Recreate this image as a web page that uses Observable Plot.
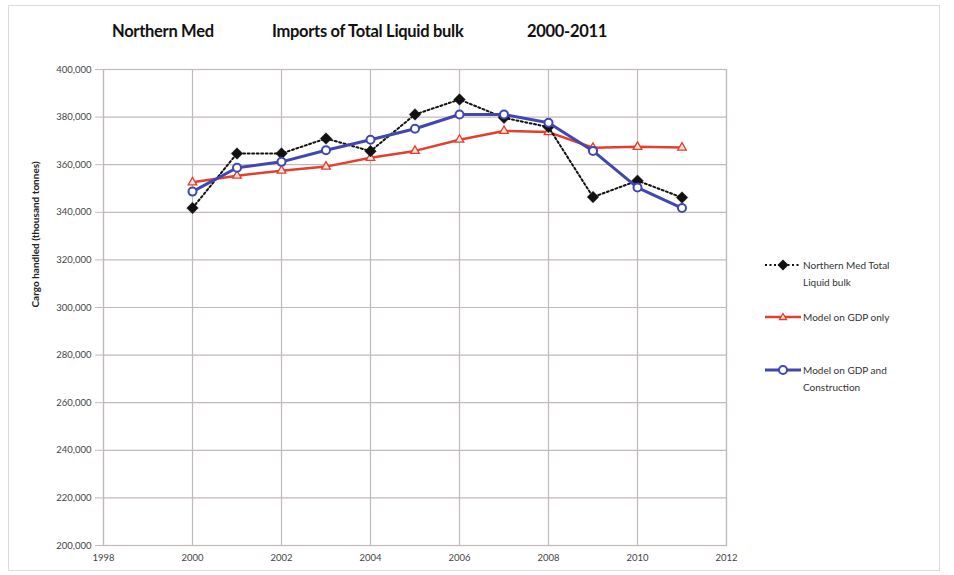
<!DOCTYPE html>
<html>
<head>
<meta charset="utf-8">
<script src="https://cdn.jsdelivr.net/npm/d3@7"></script>
<script src="https://cdn.jsdelivr.net/npm/@observablehq/plot@0.6"></script>
<style>
  html, body { margin: 0; padding: 0; background: #ffffff; }
  #wrap { position: relative; width: 954px; height: 575px; overflow: hidden; font-family: Lato, "Open Sans", sans-serif; }
  #border { position: absolute; left: 8px; top: 5px; width: 932px; height: 566px; border: 1px solid #dcdcdc; box-sizing: border-box; }
  #title span { position: absolute; top: 21px; font-weight: bold; font-size: 16.5px; color: #111; white-space: nowrap; letter-spacing: -0.3px; }
  #chart { position: absolute; left: 0; top: 0; }
  .leg { position: absolute; left: 765px; font-size: 10px; color: #333; line-height: 17px; }
  .leg svg { position: absolute; left: 0; top: 0; }
  .leg div { position: absolute; left: 38px; top: -8px; white-space: nowrap; }
</style>
</head>
<body>
<div id="wrap">
  <div id="border"></div>
  <div id="title">
    <span style="left:112px">Northern Med</span>
    <span style="left:272px">Imports of Total Liquid bulk</span>
    <span style="left:527px">2000-2011</span>
  </div>
  <div id="chart"></div>
  <div class="leg" id="leg1" style="top:265px"></div>
  <div class="leg" id="leg2" style="top:317px"></div>
  <div class="leg" id="leg3" style="top:370px"></div>
</div>
<script>
const years = [2000, 2001, 2002, 2003, 2004, 2005, 2006, 2007, 2008, 2009, 2010, 2011];
const actual = [341800, 364700, 364700, 371000, 365700, 381100, 387400, 379700, 375800, 346400, 353300, 346200];
const modelGDP = [352600, 355400, 357500, 359200, 362900, 365800, 370500, 374200, 373700, 367100, 367500, 367200];
const modelGDPConstr = [348700, 358700, 361200, 366100, 370500, 375100, 381100, 381100, 377600, 365800, 350400, 341800];
const seriesNames = ["Northern Med Total Liquid bulk", "Model on GDP only", "Model on GDP and Construction"];
const xTicks = [1998, 2000, 2002, 2004, 2006, 2008, 2010, 2012];
const yTicks = [200000, 220000, 240000, 260000, 280000, 300000, 320000, 340000, 360000, 380000, 400000];
const yLabel = "Cargo handled (thousand tonnes)";

const colors = { black: "#111111", red: "#e2402c", blue: "#4047b0", grid: "#c4b9b9" };

const toRows = (vals, name) => years.map((y, i) => ({ year: y, value: vals[i], series: name }));
const dA = toRows(actual, seriesNames[0]);
const dR = toRows(modelGDP, seriesNames[1]);
const dB = toRows(modelGDPConstr, seriesNames[2]);

const chart = Plot.plot({
  width: 954,
  height: 575,
  marginLeft: 103,
  marginRight: 228,
  marginTop: 69,
  marginBottom: 30,
  style: { fontFamily: "Lato, 'Open Sans', sans-serif", fontSize: "9.5px", color: "#444", background: "transparent" },
  x: { domain: [1998, 2012], label: null },
  y: { domain: [200000, 400000], label: null },
  marks: [
    Plot.gridX(xTicks, { stroke: colors.grid, strokeOpacity: 1, strokeWidth: 1.2 }),
    Plot.gridY(yTicks, { stroke: colors.grid, strokeOpacity: 1, strokeWidth: 1.2 }),
    Plot.frame({ stroke: colors.grid, strokeWidth: 1.2 }),
    Plot.axisX({ ticks: xTicks, tickFormat: d => String(d), tickSize: 0, tickPadding: 9, label: null }),
    Plot.axisY({ ticks: yTicks, tickFormat: d3.format(","), tickSize: 8, tickPadding: 4, stroke: colors.grid, label: null }),
    Plot.text([yLabel], { frameAnchor: "left", rotate: -90, dx: -68, fontWeight: "bold", fontSize: 10, fill: "#222", text: d => d }),
    Plot.line(dR, { x: "year", y: "value", stroke: colors.red, strokeWidth: 2.5 }),
    Plot.dot(dR, { x: "year", y: "value", symbol: "triangle", r: 3.2, fill: "#fbe3de", stroke: colors.red, strokeWidth: 1.3 }),
    Plot.line(dA, { x: "year", y: "value", stroke: colors.black, strokeWidth: 2, strokeDasharray: "2,2.5" }),
    Plot.dot(dA, { x: "year", y: "value", symbol: "square", rotate: 45, r: 4.6, fill: colors.black, stroke: colors.black, strokeWidth: 0.5 }),
    Plot.line(dB, { x: "year", y: "value", stroke: colors.blue, strokeWidth: 3 }),
    Plot.dot(dB, { x: "year", y: "value", symbol: "circle", r: 4, fill: "#ffffff", stroke: colors.blue, strokeWidth: 2 })
  ]
});
document.getElementById("chart").appendChild(chart);

// Legend
function legendItem(id, lines, kind) {
  const el = document.getElementById(id);
  let marker = "";
  let line = "";
  if (kind === "black") {
    line = `<line x1="0" y1="0" x2="36" y2="0" stroke="${colors.black}" stroke-width="2" stroke-dasharray="2,2.5"/>`;
    marker = `<path d="M18,-5.5 L23.5,0 L18,5.5 L12.5,0 Z" fill="${colors.black}"/>`;
  } else if (kind === "red") {
    line = `<line x1="0" y1="0" x2="36" y2="0" stroke="${colors.red}" stroke-width="2.5"/>`;
    marker = `<path d="M18,-3.5 L21.5,2.5 L14.5,2.5 Z" fill="#fbe3de" stroke="${colors.red}" stroke-width="1.3"/>`;
  } else {
    line = `<line x1="0" y1="0" x2="36" y2="0" stroke="${colors.blue}" stroke-width="3"/>`;
    marker = `<circle cx="18" cy="0" r="4" fill="#fff" stroke="${colors.blue}" stroke-width="2"/>`;
  }
  el.innerHTML = `<svg width="40" height="14" viewBox="0 -7 40 14" style="top:-7px;overflow:visible">${line}${marker}</svg><div>${lines.join("<br>")}</div>`;
}
legendItem("leg1", ["Northern Med Total", "Liquid bulk"], "black");
legendItem("leg2", ["Model on GDP only"], "red");
legendItem("leg3", ["Model on GDP and", "Construction"], "blue");
</script>
</body>
</html>
